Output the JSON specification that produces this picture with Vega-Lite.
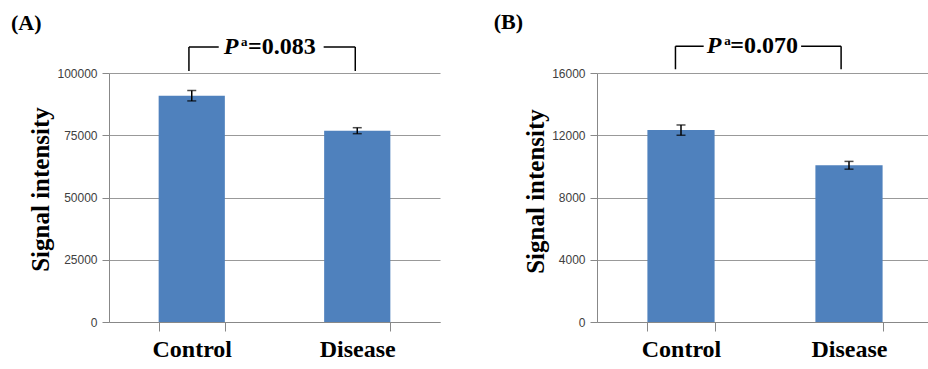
{
  "$schema": "https://vega.github.io/schema/vega-lite/v6.json",
  "background": "white",
  "padding": {"left": 10, "top": 11, "right": 0, "bottom": 0},
  "spacing": 53,
  "config": {
    "view": {"stroke": null},
    "font": "Liberation Serif"
  },
  "hconcat": [
    {
      "width": 331,
      "height": 249,
      "title": {"text": "(A)", "anchor": "start", "frame": "bounds", "dx": -18, "font": "Liberation Serif", "fontSize": 22, "fontWeight": "bold", "color": "black", "offset": 0},
      "layer": [
        {
          "data": {"values": [
            {"group": "Control", "value": 90880, "err": 2090},
            {"group": "Disease", "value": 76830, "err": 1200}
          ]},
          "layer": [
            {
              "mark": {"type": "bar", "color": "#4F81BD"},
              "encoding": {
                "x": {"field": "group", "type": "nominal", "sort": null,
                  "scale": {"paddingInner": 0.6, "paddingOuter": 0.3},
                  "axis": {"title": null, "labelAngle": 0, "labelFont": "Liberation Serif", "labelFontSize": 24, "labelFontWeight": "bold", "labelColor": "black", "labelPadding": 6, "tickSize": 9, "tickColor": "#888888", "domainColor": "#888888", "tickBand": "extent", "grid": false}},
                "y": {"field": "value", "type": "quantitative",
                  "scale": {"domain": [0, 100000], "nice": false},
                  "axis": {"values": [0, 25000, 50000, 75000, 100000], "format": "d", "title": "Signal intensity", "titleY": 116, "titleFont": "Liberation Serif", "titleFontSize": 25, "titleFontWeight": "bold", "titleColor": "black", "titlePadding": 3, "labelFont": "Liberation Sans", "labelFontSize": 12, "labelColor": "#404040", "labelPadding": 5, "tickSize": 7, "tickColor": "#888888", "domainColor": "#888888", "gridColor": "#999999", "grid": true}}
              }
            },
            {
              "mark": {"type": "errorbar", "color": "black", "thickness": 1.5, "ticks": {"size": 9, "color": "black", "thickness": 1.5}},
              "encoding": {
                "x": {"field": "group", "type": "nominal", "sort": null},
                "y": {"field": "value", "type": "quantitative", "scale": {"domain": [0, 100000], "nice": false}, "title": "Signal intensity"},
                "yError": {"field": "err"}
              }
            }
          ]
        },
        {
          "data": {"values": [
            {"x": 0.483, "x2": 0.483, "y": 100800, "y2": 110440},
            {"x": 0.483, "x2": 0.663, "y": 110440, "y2": 110440},
            {"x": 1.297, "x2": 1.488, "y": 110440, "y2": 110440},
            {"x": 1.488, "x2": 1.488, "y": 100800, "y2": 110440}
          ]},
          "mark": {"type": "rule", "color": "black", "strokeWidth": 1.5},
          "encoding": {
            "x": {"field": "x", "type": "quantitative", "scale": {"domain": [0, 2], "nice": false, "zero": false}, "axis": null},
            "x2": {"field": "x2"},
            "y": {"field": "y", "type": "quantitative", "scale": {"domain": [0, 100000], "nice": false}, "title": "Signal intensity"},
            "y2": {"field": "y2"}
          }
        },
        {
          "data": {"values": [
            {"x": 0.693, "y": 107630, "t": "P"}
          ]},
          "mark": {"type": "text", "align": "left", "baseline": "alphabetic", "font": "Liberation Serif", "fontSize": 24, "fontWeight": "bold", "fontStyle": "italic", "color": "black"},
          "encoding": {
            "x": {"field": "x", "type": "quantitative", "scale": {"domain": [0, 2], "nice": false, "zero": false}, "axis": null},
            "y": {"field": "y", "type": "quantitative", "scale": {"domain": [0, 100000], "nice": false}, "title": "Signal intensity"},
            "text": {"field": "t"}
          }
        },
        {
          "data": {"values": [
            {"x": 0.798, "y": 110840, "t": "a"}
          ]},
          "mark": {"type": "text", "align": "left", "baseline": "alphabetic", "font": "Liberation Serif", "fontSize": 13, "fontWeight": "bold", "color": "black"},
          "encoding": {
            "x": {"field": "x", "type": "quantitative", "scale": {"domain": [0, 2], "nice": false, "zero": false}, "axis": null},
            "y": {"field": "y", "type": "quantitative", "scale": {"domain": [0, 100000], "nice": false}, "title": "Signal intensity"},
            "text": {"field": "t"}
          }
        },
        {
          "data": {"values": [
            {"x": 0.84, "y": 107630, "t": "=0.083"}
          ]},
          "mark": {"type": "text", "align": "left", "baseline": "alphabetic", "font": "Liberation Serif", "fontSize": 24, "fontWeight": "bold", "color": "black"},
          "encoding": {
            "x": {"field": "x", "type": "quantitative", "scale": {"domain": [0, 2], "nice": false, "zero": false}, "axis": null},
            "y": {"field": "y", "type": "quantitative", "scale": {"domain": [0, 100000], "nice": false}, "title": "Signal intensity"},
            "text": {"field": "t"}
          }
        }
      ],
      "resolve": {"scale": {"x": "independent"}}
    },
    {
      "width": 336,
      "height": 249,
      "title": {"text": "(B)", "anchor": "start", "frame": "bounds", "dx": -30, "font": "Liberation Serif", "fontSize": 22, "fontWeight": "bold", "color": "black", "offset": 0},
      "layer": [
        {
          "data": {"values": [
            {"group": "Control", "value": 12330, "err": 330},
            {"group": "Disease", "value": 10070, "err": 250}
          ]},
          "layer": [
            {
              "mark": {"type": "bar", "color": "#4F81BD"},
              "encoding": {
                "x": {"field": "group", "type": "nominal", "sort": null,
                  "scale": {"paddingInner": 0.6, "paddingOuter": 0.3},
                  "axis": {"title": null, "labelAngle": 0, "labelFont": "Liberation Serif", "labelFontSize": 24, "labelFontWeight": "bold", "labelColor": "black", "labelPadding": 6, "tickSize": 9, "tickColor": "#888888", "domainColor": "#888888", "tickBand": "extent", "grid": false}},
                "y": {"field": "value", "type": "quantitative",
                  "scale": {"domain": [0, 16000], "nice": false},
                  "axis": {"values": [0, 4000, 8000, 12000, 16000], "format": "d", "title": "Signal intensity", "titleY": 118, "titleFont": "Liberation Serif", "titleFontSize": 25, "titleFontWeight": "bold", "titleColor": "black", "titlePadding": 3, "labelFont": "Liberation Sans", "labelFontSize": 12, "labelColor": "#404040", "labelPadding": 5, "tickSize": 7, "tickColor": "#888888", "domainColor": "#888888", "gridColor": "#999999", "grid": true}}
              }
            },
            {
              "mark": {"type": "errorbar", "color": "black", "thickness": 1.5, "ticks": {"size": 9, "color": "black", "thickness": 1.5}},
              "encoding": {
                "x": {"field": "group", "type": "nominal", "sort": null},
                "y": {"field": "value", "type": "quantitative", "scale": {"domain": [0, 16000], "nice": false}, "title": "Signal intensity"},
                "yError": {"field": "err"}
              }
            }
          ]
        },
        {
          "data": {"values": [
            {"x": 0.467, "x2": 0.467, "y": 16240, "y2": 17720},
            {"x": 0.467, "x2": 0.635, "y": 17720, "y2": 17720},
            {"x": 1.215, "x2": 1.453, "y": 17720, "y2": 17720},
            {"x": 1.453, "x2": 1.453, "y": 16240, "y2": 17720}
          ]},
          "mark": {"type": "rule", "color": "black", "strokeWidth": 1.5},
          "encoding": {
            "x": {"field": "x", "type": "quantitative", "scale": {"domain": [0, 2], "nice": false, "zero": false}, "axis": null},
            "x2": {"field": "x2"},
            "y": {"field": "y", "type": "quantitative", "scale": {"domain": [0, 16000], "nice": false}, "title": "Signal intensity"},
            "y2": {"field": "y2"}
          }
        },
        {
          "data": {"values": [
            {"x": 0.653, "y": 17270, "t": "P"}
          ]},
          "mark": {"type": "text", "align": "left", "baseline": "alphabetic", "font": "Liberation Serif", "fontSize": 24, "fontWeight": "bold", "fontStyle": "italic", "color": "black"},
          "encoding": {
            "x": {"field": "x", "type": "quantitative", "scale": {"domain": [0, 2], "nice": false, "zero": false}, "axis": null},
            "y": {"field": "y", "type": "quantitative", "scale": {"domain": [0, 16000], "nice": false}, "title": "Signal intensity"},
            "text": {"field": "t"}
          }
        },
        {
          "data": {"values": [
            {"x": 0.757, "y": 17785, "t": "a"}
          ]},
          "mark": {"type": "text", "align": "left", "baseline": "alphabetic", "font": "Liberation Serif", "fontSize": 13, "fontWeight": "bold", "color": "black"},
          "encoding": {
            "x": {"field": "x", "type": "quantitative", "scale": {"domain": [0, 2], "nice": false, "zero": false}, "axis": null},
            "y": {"field": "y", "type": "quantitative", "scale": {"domain": [0, 16000], "nice": false}, "title": "Signal intensity"},
            "text": {"field": "t"}
          }
        },
        {
          "data": {"values": [
            {"x": 0.793, "y": 17270, "t": "=0.070"}
          ]},
          "mark": {"type": "text", "align": "left", "baseline": "alphabetic", "font": "Liberation Serif", "fontSize": 24, "fontWeight": "bold", "color": "black"},
          "encoding": {
            "x": {"field": "x", "type": "quantitative", "scale": {"domain": [0, 2], "nice": false, "zero": false}, "axis": null},
            "y": {"field": "y", "type": "quantitative", "scale": {"domain": [0, 16000], "nice": false}, "title": "Signal intensity"},
            "text": {"field": "t"}
          }
        }
      ],
      "resolve": {"scale": {"x": "independent"}}
    }
  ]
}
